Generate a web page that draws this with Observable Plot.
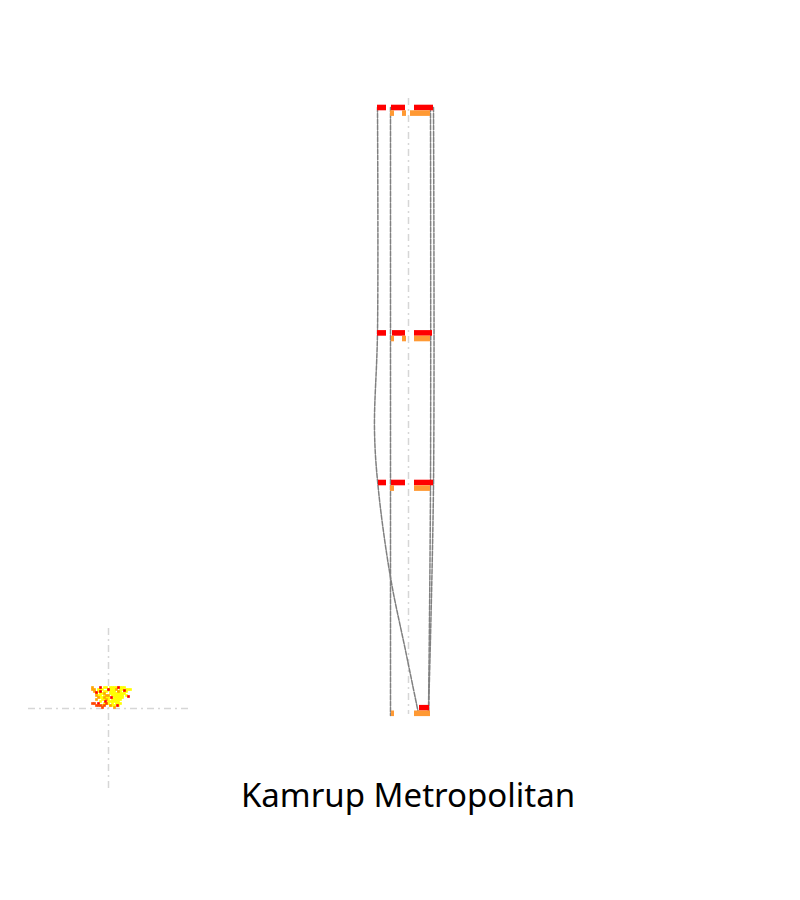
<!DOCTYPE html>
<html>
<head>
<meta charset="utf-8">
<script src="https://cdn.jsdelivr.net/npm/d3@7"></script>
<script src="https://cdn.jsdelivr.net/npm/@observablehq/plot@0.6"></script>
<style>
  body { margin: 0; background: #fff; }
  #wrap { width: 800px; }
  #wrap svg { overflow: visible; }
  #title { width: 800px; padding-left: 16px; box-sizing: border-box; text-align: center; margin-top: -9px;
           font-family: "Noto Sans", sans-serif; font-size: 33px; line-height: 46px; color: #000; }
</style>
</head>
<body>
<div id="wrap"></div>
<div id="title">Kamrup Metropolitan</div>
<script>
// ---- data ----
const rowLevel = [110.3, 335.7, 485.3, 710.5];

const redRow   = [0, 0, 0, 1, 1, 1, 2, 2, 2, 3];
const redStart = [-31, -17, 6, -31, -16, 6, -30, -17, 6, 11];
const redEnd   = [-22, -3, 25, -22, -3, 24, -22, -3, 25, 21];

const orangeRow   = [0, 0, 0, 1, 1, 1, 2, 2, 3, 3];
const orangeStart = [-18, -6, 2, -17, -6, 6, -18, 6, -17, 6];
const orangeEnd   = [-14, -2, 22, -14, -2, 22, -14, 22, -14, 22];

const pathId = ["A","A","A","A","A","A","A", "B","B", "C","C","C", "D","D","D"];
const pathX  = [-31, -31, -34, -30, -18, -3, 10,  -18, -18,  22, 22, 20,  25, 25, 20];
const pathY  = [107, 332, 430, 490, 577, 650, 713,  107, 715,  107, 485, 713,  107, 485, 713];

const axisTop = 98, axisBottom = 714;

const crossX = -300, crossY = 708;
const crossXRange = [-380, -220];
const crossYRange = [628, 788];

// blob cells: x, y (relative to crosshair centre), category
const blobX = [
  // yellow
  -4,-2,2,4,6,8,12,14,16,
  -10,-8,-6,0,2,4,6,12,14,18,20,22,
  -10,-8,-4,-2,2,4,6,10,12,16,18,
  -12,-8,-6,2,4,6,8,10,12,14,16,
  -10,-8,-4,4,6,8,10,12,14,18,
  -8,-6,-2,0,6,8,10,12,14,
  -6,-4,0,4,6,8,10,12,
  -8,0,2,4,6,8,10,
  -4,-2,0,4,8,10,12,
  2,4,6,10,
  // orange
  -16,-16,-14,-14,-12,-10,-4,-2,-4,0,-2,8,10,2,6,-12,-6,
  // red
  -12,-8,0,10,16,20,-10,-3,9,3,-8,
  // orange-red
  -14,-12,-10,-8,-6,-4,-2,-16
];
const blobY = [
  -21,-21,-21,-21,-21,-21,-21,-21,-21,
  -19,-19,-19,-19,-19,-19,-19,-19,-19,-19,-19,-19,
  -17,-17,-17,-17,-17,-17,-17,-17,-17,-17,-17,
  -15,-15,-15,-15,-15,-15,-15,-15,-15,-15,-15,
  -13,-13,-13,-13,-13,-13,-13,-13,-13,-13,
  -11,-11,-11,-11,-11,-11,-11,-11,-11,
  -9,-9,-9,-9,-9,-9,-9,-9,
  -7,-7,-7,-7,-7,-7,-7,
  -5,-5,-5,-5,-5,-5,-5,
  -3,-3,-3,-3,
  -21,-19,-19,-17,-13,-11,-15,-13,-11,-13,-9,-19,-17,-3,-1,-9,-3,
  -16,-21,-19,-21,-18,-12,-5,-7,-3,-11,-17,
  -5,-3,-3,-3,-1,-3,-5,-5
];
const blobCat = [
  ...Array(9).fill("Y"), ...Array(12).fill("Y"), ...Array(11).fill("Y"), ...Array(11).fill("Y"),
  ...Array(10).fill("Y"), ...Array(9).fill("Y"), ...Array(8).fill("Y"), ...Array(7).fill("Y"),
  ...Array(7).fill("Y"), ...Array(4).fill("Y"),
  ...Array(17).fill("O"), ...Array(11).fill("R"), ...Array(8).fill("RO")
];

// ---- tables ----
const red = redRow.map((r, i) => ({row: rowLevel[r], x1: redStart[i], x2: redEnd[i]}));
const orange = orangeRow.map((r, i) => ({row: rowLevel[r], x1: orangeStart[i], x2: orangeEnd[i]}));
const paths = pathId.map((id, i) => ({id, x: pathX[i], y: pathY[i]}));
const blob = blobX.map((x, i) => ({x: crossX + x, y: crossY + blobY[i], c: blobCat[i]}));

const barH = 5.6;
const dashDot = "7,4,2,4";

const chart = Plot.plot({
  width: 800,
  height: 781,
  margin: 0,
  x: {domain: [-408, 392], axis: null},
  y: {domain: [0, 781], range: [0, 781], axis: null},
  color: {domain: ["Y", "O", "R", "RO"], range: ["#ffff00", "#ffa500", "#ff0000", "#ff4500"]},
  marks: [
    Plot.ruleX([0], {y1: axisTop, y2: axisBottom, stroke: "#d6d6d6", strokeWidth: 1.5, strokeDasharray: dashDot}),
    Plot.ruleY([crossY], {x1: crossXRange[0], x2: crossXRange[1], stroke: "#d6d6d6", strokeWidth: 1.5, strokeDasharray: dashDot}),
    Plot.ruleX([crossX], {y1: crossYRange[0], y2: crossYRange[1], stroke: "#d6d6d6", strokeWidth: 1.5, strokeDasharray: dashDot}),
    Plot.line(paths, {x: "x", y: "y", z: "id", curve: "catmull-rom", stroke: "#808080", strokeWidth: 1.5, strokeDasharray: "4.5,1.5"}),
    Plot.rect(red, {x1: "x1", x2: "x2", y1: d => d.row - barH, y2: "row", fill: "#ff0000"}),
    Plot.rect(orange, {x1: "x1", x2: "x2", y1: "row", y2: d => d.row + barH, fill: "#ff9933"}),
    Plot.dot(blob, {x: "x", y: "y", fill: "c", symbol: "square", r: 1.5})
  ]
});
document.getElementById("wrap").appendChild(chart);
</script>
</body>
</html>
